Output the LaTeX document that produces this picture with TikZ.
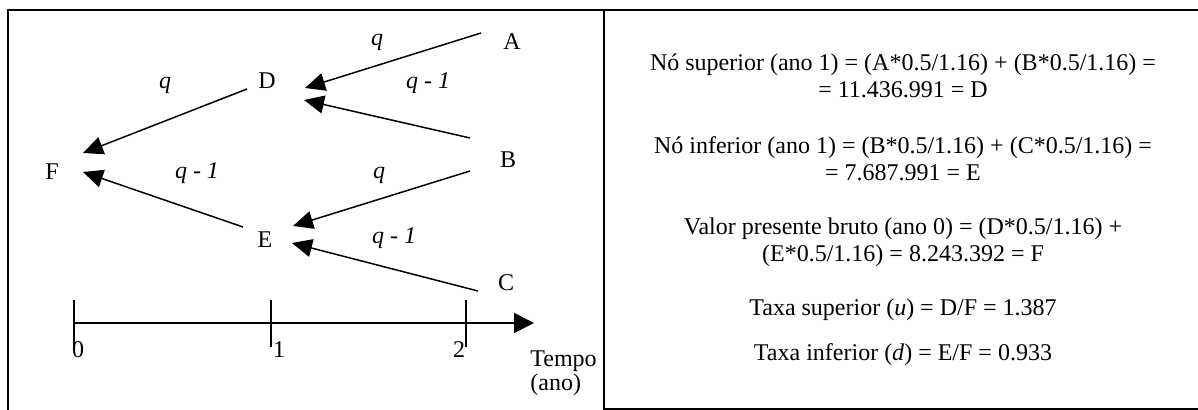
\documentclass[tikz,border=0pt]{standalone}
\usepackage{fontspec}
\setmainfont{Liberation Serif}
\usetikzlibrary{arrows.meta}

\begin{document}
\begin{tikzpicture}[x=0.5pt, y=-0.5pt,
    every node/.style={font=\fontsize{12}{13.5}\selectfont, inner sep=0pt},
    frame/.style={line width=1pt},
    branch/.style={line width=0.75pt, -{Triangle[length=10pt, width=9pt]}},
    timeaxis/.style={line width=0.75pt, -{Triangle[length=10pt, width=10pt]}},
    prob/.style={font=\fontsize{12}{13.5}\selectfont\itshape},
    calcbox/.style={align=center}]
    \useasboundingbox (0,0) rectangle (1198,410);

    % Frames
    \draw[frame] (8,410) -- (8,10) -- (1198,10);
    \draw[frame] (604,10) -- (604,410);
    \draw[frame] (604,409) -- (1198,409);

    % Tree nodes
    \node (A) at (512,42) {A};
    \node (B) at (508,160) {B};
    \node (C) at (506,283) {C};
    \node (D) at (267,81) {D};
    \node (E) at (265,240) {E};
    \node (F) at (52,172) {F};

    % Branches
    \draw[branch] ([shift={(-31,-9)}]A.center) -- ([shift={(38,7)}]D.center);
    \draw[branch] ([shift={(-38,-22)}]B.center) -- ([shift={(37,19)}]D.center);
    \draw[branch] ([shift={(-38,11)}]B.center) -- ([shift={(28,-14)}]E.center);
    \draw[branch] ([shift={(-28,8)}]C.center) -- ([shift={(27,3)}]E.center);
    \draw[branch] ([shift={(-20,8)}]D.center) -- ([shift={(31,-19)}]F.center);
    \draw[branch] ([shift={(-22,-13)}]E.center) -- ([shift={(31,0)}]F.center);

    % Branch labels
    \node[prob] (pAD) at (377,42) {q};
    \node[prob] (pBD) at (428,83) {q - 1};
    \node[prob] (pDF) at (165,85) {q};
    \node[prob] (pEF) at (197,173) {q - 1};
    \node[prob] (pBE) at (379,175) {q};
    \node[prob] (pCE) at (394,238) {q - 1};

    % Time axis
    \draw[timeaxis] (74,323) -- (534,323);
    \foreach \x/\lbl/\dx in {74/0/4, 271/1/8, 466/2/-7} {
      \draw[line width=0.75pt] (\x,300) -- (\x,347);
      \node (tick\lbl) at (\x+\dx,350) {\lbl};
    }
    \node[anchor=base west] (tempo) at (530,367) {Tempo};
    \node[anchor=base west] (ano) at (530,391) {(ano)};

    % Calculations
    \node[calcbox] (sup) at (903,76) {N\'o superior (ano 1) = (A*0.5/1.16) + (B*0.5/1.16) =\\= 11.436.991 = D};
    \node[calcbox] (inf) at (903,159) {N\'o inferior (ano 1) = (B*0.5/1.16) + (C*0.5/1.16) =\\= 7.687.991 = E};
    \node[calcbox] (vpb) at (903,242) {Valor presente bruto (ano 0) = (D*0.5/1.16) +\\(E*0.5/1.16) = 8.243.392 = F};
    \node (taxu) at (903,310) {Taxa superior (\textit{u}) = D/F = 1.387};
    \node (taxd) at (903,355) {Taxa inferior (\textit{d}) = E/F = 0.933};
\end{tikzpicture}
\end{document}
